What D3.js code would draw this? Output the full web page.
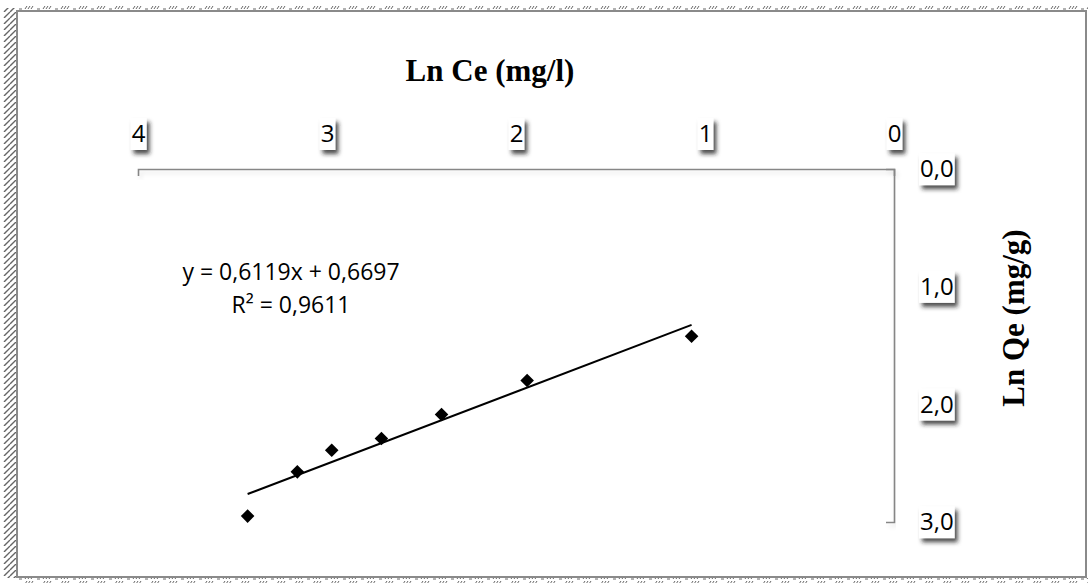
<!DOCTYPE html>
<html>
<head>
<meta charset="utf-8">
<script src="https://cdn.jsdelivr.net/npm/d3@7"></script>
<style>
  body { margin: 0; background: #fff; }
  .tick text { font-family: "Open Sans", sans-serif; font-size: 24px; fill: #000; }
  .axis path, .axis line { stroke: #868686; stroke-width: 1.6; }
</style>
</head>
<body>
<div id="chart"></div>
<script>
// data (Ln Ce, Ln Qe)
var lnCe = [3.42, 3.157, 2.975, 2.712, 2.394, 1.941, 1.071],
    lnQe = [2.95, 2.574, 2.39, 2.29, 2.087, 1.797, 1.421];
var xTicks = [4, 3, 2, 1, 0],
    yTicks = [0, 1, 2, 3];
// trendline shown in the chart
var slope = 0.6119, intercept = 0.6697, r2 = 0.9611;

var width = 1092, height = 583;

var svg = d3.select("#chart").append("svg")
    .attr("width", width)
    .attr("height", height);

var defs = svg.append("defs");

// drop shadow for the label boxes
var shadow = defs.append("filter").attr("id", "shadow")
    .attr("x", "-50%").attr("y", "-50%").attr("width", "200%").attr("height", "200%");
shadow.append("feDropShadow")
    .attr("dx", 3).attr("dy", 4).attr("stdDeviation", 2.2)
    .attr("flood-color", "#222").attr("flood-opacity", 0.8);

var lineShadow = defs.append("filter").attr("id", "lineShadow")
    .attr("x", "-10%").attr("y", "-50%").attr("width", "120%").attr("height", "200%");
lineShadow.append("feDropShadow")
    .attr("dx", 2).attr("dy", 3).attr("stdDeviation", 2)
    .attr("flood-color", "#000").attr("flood-opacity", 0.12);

// hatched frame patterns
var hatchV = defs.append("pattern").attr("id", "hatchV")
    .attr("patternUnits", "userSpaceOnUse").attr("width", 16).attr("height", 6);
hatchV.append("path").attr("d", "M10,6 L16,0 M4,6 L10,0")
    .attr("stroke", "#666").attr("stroke-width", 1.4);

var hatchH = defs.append("pattern").attr("id", "hatchH")
    .attr("patternUnits", "userSpaceOnUse").attr("width", 18).attr("height", 5);
hatchH.append("path").attr("d", "M1,4 L4,4 M7,4 L9,1 M10,4 L12,1 M13,4 L15,1")
    .attr("stroke", "#666").attr("stroke-width", 1);

svg.append("rect").attr("x", 2).attr("y", 8).attr("width", 14).attr("height", 570)
    .attr("fill", "url(#hatchV)");
svg.append("rect").attr("x", 16).attr("y", 5).attr("width", 1072).attr("height", 5)
    .attr("fill", "url(#hatchH)");
svg.append("rect").attr("x", 16).attr("y", 578).attr("width", 1072).attr("height", 5)
    .attr("fill", "url(#hatchH)");

svg.append("rect")
    .attr("x", 17).attr("y", 11).attr("width", 1069).attr("height", 566)
    .attr("fill", "#fff").attr("stroke", "#8a8a8a").attr("stroke-width", 2);

// scales (both reversed like the original)
var x = d3.scaleLinear().domain([4, 0]).range([138, 894]);
var y = d3.scaleLinear().domain([0, 3]).range([169, 522]);

var comma = function (f) { return function (d) { return f(d).replace(".", ","); }; };

var xAxis = svg.append("g").attr("class", "axis")
    .attr("transform", "translate(0," + y(0) + ")")
    .call(d3.axisTop(x).tickValues(xTicks).tickFormat(d3.format("d"))
        .tickSizeInner(-7).tickSizeOuter(-7).tickPadding(27));

var yAxis = svg.append("g").attr("class", "axis")
    .attr("transform", "translate(" + x(0) + ",0)")
    .call(d3.axisRight(y).tickValues(yTicks).tickFormat(comma(d3.format(".1f")))
        .tickSizeInner(-8).tickSizeOuter(-8).tickPadding(26));

// white boxes with shadow behind the tick labels
function boxLabels(axisG) {
    axisG.selectAll(".tick").each(function () {
        var t = d3.select(this).select("text");
        var b = t.node().getBBox();
        d3.select(this).insert("rect", "text")
            .attr("x", b.x - 1).attr("y", b.y + 2)
            .attr("width", b.width + 2).attr("height", b.height - 1)
            .attr("fill", "#fff")
            .attr("filter", "url(#shadow)");
    });
    axisG.select(".domain").attr("filter", "url(#lineShadow)");
    axisG.selectAll("line").attr("filter", "url(#lineShadow)");
}
boxLabels(xAxis);
boxLabels(yAxis);

// trendline over the data range
var xMin = d3.min(lnCe), xMax = d3.max(lnCe);
svg.append("line")
    .attr("x1", x(xMax)).attr("y1", y(slope * xMax + intercept))
    .attr("x2", x(xMin)).attr("y2", y(slope * xMin + intercept))
    .attr("stroke", "#000").attr("stroke-width", 2);

// markers
var diamond = d3.symbol().type(d3.symbolSquare).size(92);
svg.append("g").selectAll("path")
    .data(lnCe)
    .join("path")
    .attr("d", diamond)
    .attr("transform", function (d, i) {
        return "translate(" + x(d) + "," + y(lnQe[i]) + ") rotate(45)";
    })
    .attr("fill", "#000");

// equation label
var eq = svg.append("text")
    .attr("x", 291).attr("y", 280)
    .attr("text-anchor", "middle")
    .style("font-family", "'Open Sans', sans-serif")
    .style("font-size", "23px");
eq.append("tspan").attr("x", 291).text("y = " + comma(d3.format(".4f"))(slope) + "x + " + comma(d3.format(".4f"))(intercept));
eq.append("tspan").attr("x", 291).attr("dy", 33).text("R² = " + comma(d3.format(".4f"))(r2));

// axis titles
svg.append("text")
    .attr("x", 490).attr("y", 81)
    .attr("text-anchor", "middle")
    .style("font-family", "'Liberation Serif', 'Times New Roman', serif")
    .style("font-weight", "bold")
    .style("font-size", "31px")
    .text("Ln Ce (mg/l)");

svg.append("text")
    .attr("transform", "translate(1024,318) rotate(-90)")
    .attr("text-anchor", "middle")
    .style("font-family", "'Liberation Serif', 'Times New Roman', serif")
    .style("font-weight", "bold")
    .style("font-size", "31px")
    .text("Ln Qe (mg/g)");
</script>
</body>
</html>
